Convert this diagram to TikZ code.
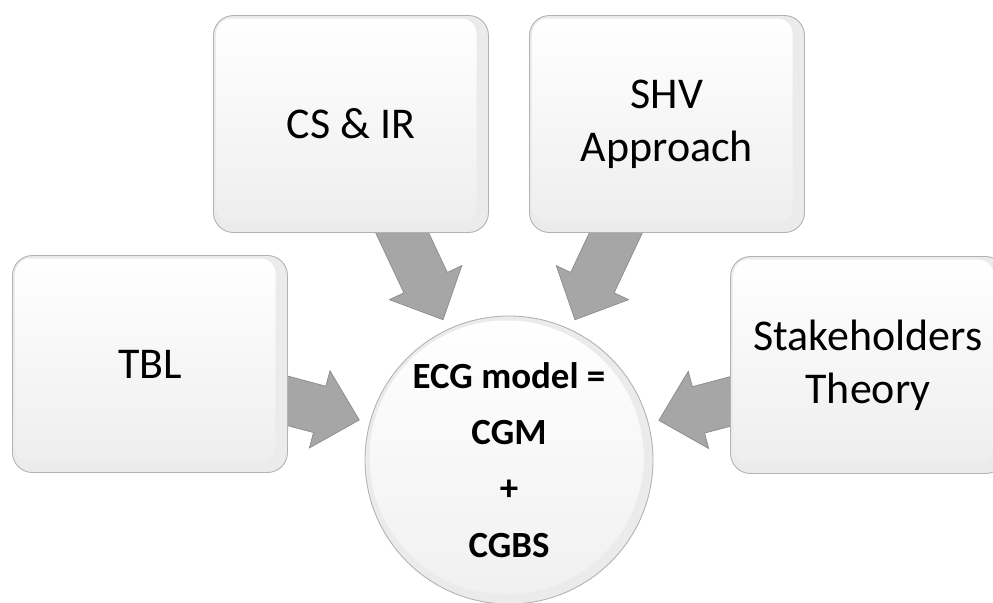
\documentclass[tikz,border=0pt]{standalone}
\usepackage{fontspec}
\setmainfont{Carlito}
\usetikzlibrary{calc,backgrounds}

\tikzset{
  topic/.style={rounded corners=0.4cm, draw=black!30, line width=0.5pt, fill=black!8,
    minimum width=5.5cm, minimum height=4.34cm, align=center,
    font=\fontsize{25}{30}\selectfont,
    path picture={
      \shade[rounded corners=0.3cm, top color=white, middle color=white, bottom color=black!7]
        ($(path picture bounding box.north west)+(0.6mm,-0.6mm)$) rectangle
        ($(path picture bounding box.south east)+(-2.4mm,2mm)$);}},
  core/.style={circle, draw=black!30, line width=0.5pt, fill=black!8,
    minimum size=5.76cm, inner sep=0pt, align=center,
    font=\fontsize{21}{32}\selectfont\bfseries,
    path picture={
      \shade[top color=white, middle color=white, bottom color=black!6]
        ($(path picture bounding box.center)+(-0.5mm,0.5mm)$) circle (2.74cm);}},
  flow/.style={fill=black!35, draw=black!45, line width=0.4pt, line join=miter}
}

% block arrow from the centre of a box towards the circle
\newcommand\inflow[1]{%
  \filldraw[flow] let \p1=($(#1)-(ecg)$), \n1={atan2(\y1,\x1)} in
    ($(ecg)+(\n1:3.1cm)$)
    -- ($(ecg)+(\n1:3.92cm)+(\n1+90:0.8cm)$)
    -- ($(ecg)+(\n1:3.92cm)+(\n1+90:0.48cm)$)
    -- ($(#1)+(\n1+90:0.48cm)$)
    -- ($(#1)+(\n1-90:0.48cm)$)
    -- ($(ecg)+(\n1:3.92cm)+(\n1-90:0.48cm)$)
    -- ($(ecg)+(\n1:3.92cm)+(\n1-90:0.8cm)$)
    -- cycle;}

\begin{document}
\begin{tikzpicture}[x=0.2mm,y=-0.2mm]
\useasboundingbox (0,0) rectangle (993,602);
\node[core] (ecg) at (509,460) {ECG model =\\CGM\\+\\CGBS};
\node[topic] (tbl) at (150,364) {TBL};
\node[topic] (csir) at (351,124) {CS \& IR};
\node[topic] (shv) at (667,124) {SHV\\Approach};
\node[topic] (stake) at (868,365) {Stakeholders\\Theory};
\begin{scope}[on background layer]
\inflow{tbl}
\inflow{csir}
\inflow{shv}
\inflow{stake}
\end{scope}
\end{tikzpicture}
\end{document}
